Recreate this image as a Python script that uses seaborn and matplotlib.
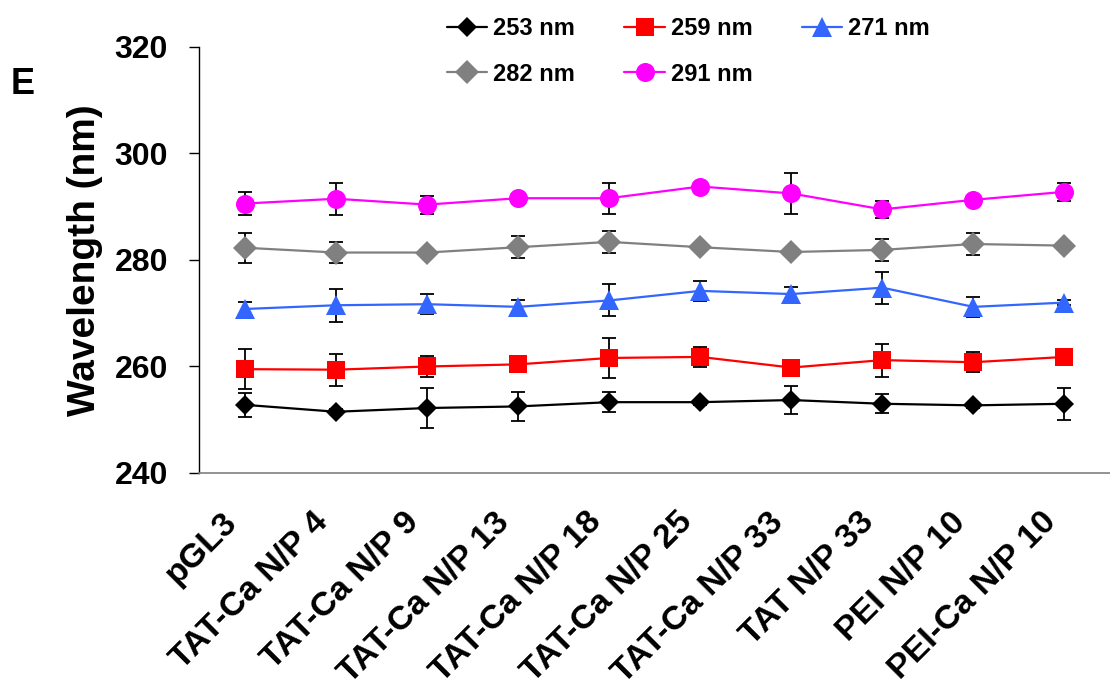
import matplotlib
matplotlib.use("Agg")
import matplotlib.pyplot as plt
import matplotlib.transforms as mtransforms
import seaborn as sns
import numpy as np
import pandas as pd

# ---- data ----
categories = ["pGL3", "TAT-Ca N/P 4", "TAT-Ca N/P 9", "TAT-Ca N/P 13",
              "TAT-Ca N/P 18", "TAT-Ca N/P 25", "TAT-Ca N/P 33",
              "TAT N/P 33", "PEI N/P 10", "PEI-Ca N/P 10"]
series_names = ["253 nm", "259 nm", "271 nm", "282 nm", "291 nm"]

nm253 = [252.8, 251.5, 252.2, 252.5, 253.3, 253.3, 253.7, 253.0, 252.7, 253.0]
err253 = [2.2, 0.5, 3.8, 2.7, 1.9, 0.5, 2.6, 1.8, 0.5, 3.0]
nm259 = [259.5, 259.4, 260.0, 260.4, 261.6, 261.8, 259.8, 261.2, 260.8, 261.8]
err259 = [3.8, 3.0, 2.0, 0.5, 3.8, 1.9, 0.5, 3.1, 1.9, 0.5]
nm271 = [270.8, 271.5, 271.7, 271.2, 272.4, 274.2, 273.6, 274.8, 271.2, 272.0]
err271 = [1.4, 3.1, 1.9, 1.2, 3.0, 1.9, 1.3, 3.0, 1.9, 0.5]
nm282 = [282.3, 281.4, 281.4, 282.4, 283.4, 282.4, 281.5, 281.9, 283.0, 282.7]
err282 = [2.8, 1.9, 0.5, 2.1, 2.0, 0.5, 0.5, 2.0, 2.1, 0.5]
nm291 = [290.6, 291.5, 290.4, 291.6, 291.6, 293.8, 292.5, 289.5, 291.3, 292.8]
err291 = [2.1, 3.0, 1.7, 0.5, 2.9, 0.5, 3.8, 1.6, 0.5, 1.7]

y_ticks = [240, 260, 280, 300, 320]

values = [nm253, nm259, nm271, nm282, nm291]
errors = [err253, err259, err271, err282, err291]

# ---- styles ----
colors = ["#000000", "#FF0000", "#3366FF", "#808080", "#FF00FF"]
markers = ["D", "s", "^", "D", "o"]
msizes = [10.5, 13.5, 14.5, 12.0, 13.7]

sns.set_style("white")
plt.rcParams["font.family"] = ["Liberation Sans", "DejaVu Sans"]
plt.rcParams["font.weight"] = "bold"
for k in ["text.color", "axes.labelcolor", "xtick.color", "ytick.color"]:
    plt.rcParams[k] = "black"

fig = plt.figure(figsize=(11.1, 6.9), dpi=100)
ax = fig.add_axes([0.1796, 0.3145, 0.8204, 0.6174])

xpos = np.arange(len(categories))
for name, vals, errs, c, m, ms in zip(series_names, values, errors, colors, markers, msizes):
    df = pd.DataFrame({"x": xpos, "y": vals})
    ax.errorbar(xpos, vals, yerr=errs, fmt="none", ecolor="black",
                elinewidth=1.3, capsize=4.7, capthick=1.3, zorder=2)
    sns.lineplot(data=df, x="x", y="y", color=c, marker=m, markersize=ms,
                 markeredgewidth=0, linewidth=1.6, label=name, ax=ax,
                 legend=False, zorder=3)

ax.set_xlim(-0.5, 9.4)
ax.set_ylim(240, 320)
ax.set_yticks(y_ticks)
ax.set_yticklabels([str(v) for v in y_ticks], fontsize=23, fontweight="bold")

ax.set_xticks(xpos)
ax.set_xticks(np.arange(-0.5, 10, 1.0), minor=True)
ax.set_xticklabels(categories, fontsize=24.5, fontweight="bold",
                   rotation=45, ha="right", va="center", rotation_mode="anchor")
ax.tick_params(axis="x", which="major", length=0, pad=32)
ax.tick_params(axis="x", which="minor", length=7.5, width=1.0, color="#808080",
               direction="out")
ax.tick_params(axis="y", which="major", length=7.5, width=1.0, color="#000000",
               direction="out", pad=15, left=True)
offset = mtransforms.ScaledTranslation(-13 / 100, 0, fig.dpi_scale_trans)
for lbl in ax.get_xticklabels():
    lbl.set_transform(lbl.get_transform() + offset)

ax.set_xlabel("")
ax.set_ylabel("Wavelength (nm)", fontsize=28, fontweight="bold", labelpad=8)

for s in ["top", "right"]:
    ax.spines[s].set_visible(False)
ax.spines["left"].set_color("black")
ax.spines["left"].set_linewidth(1.0)
ax.spines["bottom"].set_color("#808080")
ax.spines["bottom"].set_linewidth(1.2)

fig.text(0.010, 0.878, "E", fontsize=26, fontweight="bold", ha="left", va="center")

handles, labels = ax.get_legend_handles_labels()
order = [0, 3, 1, 4, 2]  # column-major fill -> row-wise reading order
leg = fig.legend([handles[i] for i in order], [labels[i] for i in order],
                 loc="upper left", bbox_to_anchor=(0.4027, 0.975),
                 ncol=3, frameon=False, fontsize=17, markerscale=1.0,
                 handlelength=1.7, handletextpad=0.25, columnspacing=2.1,
                 labelspacing=0.95, borderpad=0, borderaxespad=0)
for t in leg.get_texts():
    t.set_fontweight("bold")

fig.savefig("out.png", dpi=100)
